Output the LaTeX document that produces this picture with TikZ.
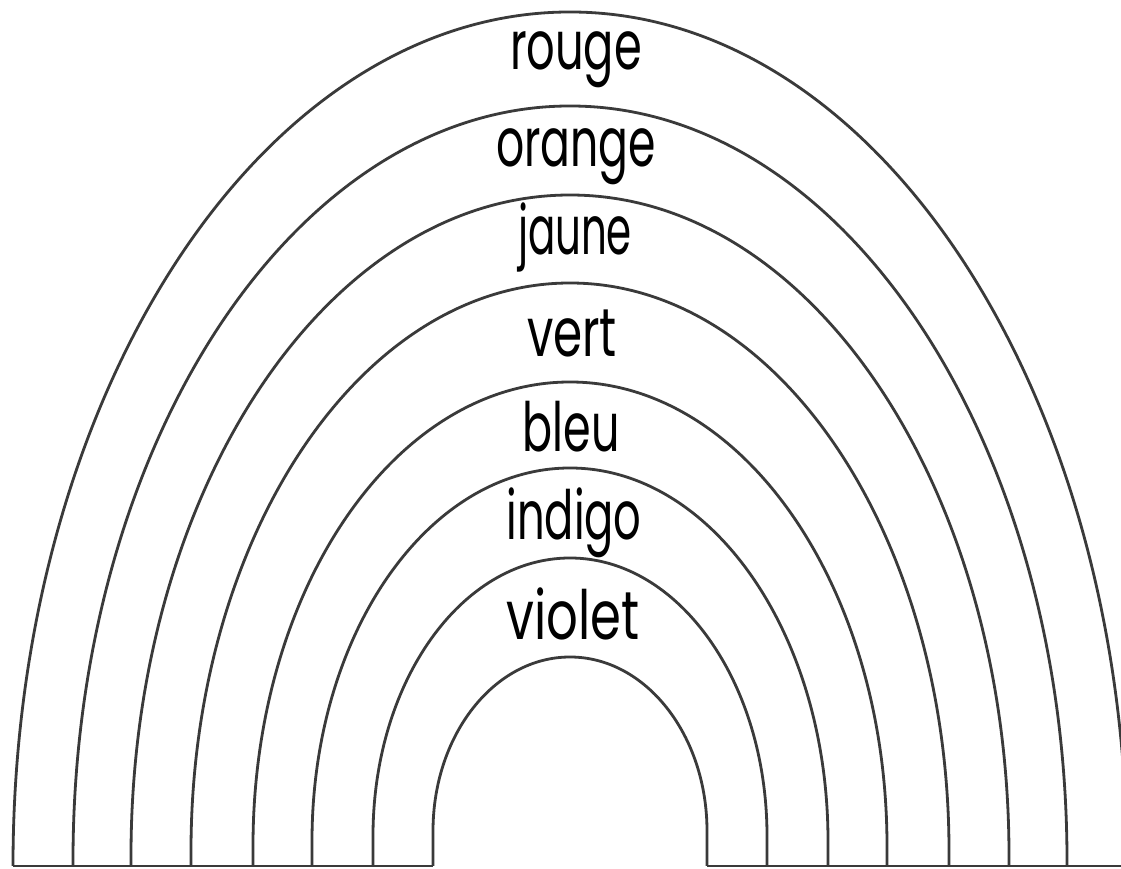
\documentclass[tikz,border=0pt]{standalone}
\usepackage{fontspec}
\setmainfont{Poppins}
\definecolor{arcgray}{HTML}{3A3A3A}
\tikzset{
  arcline/.style={draw=arcgray, line width=2.8pt, line join=round},
  colword/.style={anchor=base, inner sep=0pt, text=black, font=\fontsize{68}{68}\selectfont}
}
\newcommand{\wordw}[2]{\resizebox{#1pt}{\height}{#2}}
\begin{document}
\begin{tikzpicture}[x=1pt,y=1pt]
\useasboundingbox (0,0) rectangle (1121,869);
\clip (0,0) rectangle (1121,869);
\fill[white] (0,0) rectangle (1121,869);
% arcs: half width a, leg height L, vertical radius b
\foreach \a/\L/\b in {557/0/854, 497/5/755, 439/10/661, 379/15/568, 317/20/464, 258/25/373, 197/30/278, 137/35/174}{
  \draw[arcline] ({570-\a},3) -- ({570-\a},{3+\L})
     arc[start angle=180, end angle=0, x radius=\a pt, y radius=\b pt]
     -- ({570+\a},3);
}
% ground line
\draw[arcline] (13,3) -- (433,3);
\draw[arcline] (707,3) -- (1121,3);
% labels
\node[colword] (rouge)  at (576,799) {\wordw{132}{rouge}};
\node[colword] (orange) at (576,702) {\wordw{160}{orange}};
\node[colword] (jaune)  at (575,614) {\wordw{114}{jaune}};
\node[colword] (vert)   at (572,512) {\wordw{90}{vert}};
\node[colword] (bleu)   at (571,417) {\wordw{97}{bleu}};
\node[colword] (indigo) at (574,329) {\wordw{135}{indigo}};
\node[colword] (violet) at (573,229) {\wordw{133}{violet}};
\end{tikzpicture}
\end{document}
